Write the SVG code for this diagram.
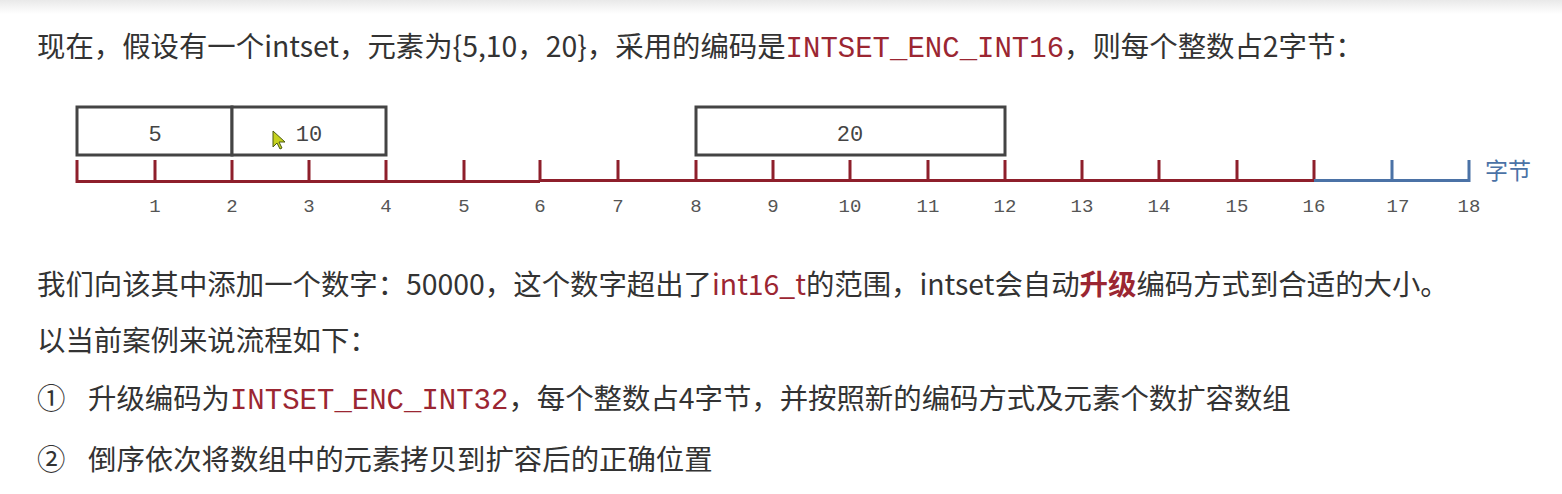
<svg xmlns="http://www.w3.org/2000/svg" width="1562" height="494" viewBox="0 0 1562 494">
<defs>
<linearGradient id="topShade" x1="0" y1="0" x2="0" y2="1">
<stop offset="0" stop-color="#e9e9e9"/>
<stop offset="1" stop-color="#ffffff"/>
</linearGradient>
</defs>
<style>
.txt{font-family:"Noto Sans CJK SC","Noto Sans",sans-serif;font-size:28.4px;fill:#333333}
.red{fill:#9b2632}
.mono{font-family:"Liberation Mono","DejaVu Sans Mono",monospace;font-size:29px}
.bold{font-weight:bold}
.box{fill:#ffffff;stroke:#444444;stroke-width:3}
.val{font-family:"Liberation Mono","DejaVu Sans Mono",monospace;font-size:22px;fill:#444444;text-anchor:middle}
.num{font-family:"Liberation Mono","DejaVu Sans Mono",monospace;font-size:19px;fill:#555555;text-anchor:middle}
.rtick{stroke:#8e1f2b;stroke-width:3;fill:none}
.btick{stroke:#4b72a6;stroke-width:3;fill:none}
</style>
<rect x="0" y="0" width="1562" height="494" fill="#ffffff"/>
<rect x="0" y="0" width="1562" height="14" fill="url(#topShade)"/>

<g id="text-line1">
<text class="txt" x="37" y="57">现在，假设有一个intset，元素为{5,10，20}，采用的编码是<tspan class="mono red">INTSET_ENC_INT16</tspan>，则每个整数占2字节：</text>
</g>

<g id="box-5">
<rect class="box" x="77" y="107" width="155" height="48"/>
<text class="val" x="155" y="141">5</text>
</g>
<g id="box-10">
<rect class="box" x="232" y="107" width="154" height="48"/>
<text class="val" x="309" y="141">10</text>
</g>
<g id="box-20">
<rect class="box" x="696" y="107" width="309" height="48"/>
<text class="val" x="850" y="141">20</text>
</g>

<g id="cursor">
<path d="M273,131 L273,147 L277,143 L280,149 L282,148 L279,142 L285,142 Z" fill="#c6d21e" stroke="#4a5a10" stroke-width="1"/>
</g>

<g id="ruler">
<path class="rtick" d="M77,160 V181.5 H540 M155,160 V181.5 M232,160 V181.5 M309,160 V181.5 M386,160 V181.5 M464,160 V181.5 M540,160 V181.5 M540,180.5 H1314 M618,160 V180.5 M696,160 V180.5 M773,160 V180.5 M850,160 V180.5 M928,160 V180.5 M1005,160 V180.5 M1082,160 V180.5 M1159,160 V180.5 M1237,160 V180.5 M1314,160 V180.5"/>
<path class="btick" d="M1314,180.5 H1469 V160 M1392,160 V180.5"/>
<g id="ruler-labels">
<text class="num" x="155" y="212">1</text>
<text class="num" x="232" y="212">2</text>
<text class="num" x="309" y="212">3</text>
<text class="num" x="386" y="212">4</text>
<text class="num" x="464" y="212">5</text>
<text class="num" x="540" y="212">6</text>
<text class="num" x="618" y="212">7</text>
<text class="num" x="696" y="212">8</text>
<text class="num" x="773" y="212">9</text>
<text class="num" x="850" y="212">10</text>
<text class="num" x="928" y="212">11</text>
<text class="num" x="1005" y="212">12</text>
<text class="num" x="1082" y="212">13</text>
<text class="num" x="1159" y="212">14</text>
<text class="num" x="1237" y="212">15</text>
<text class="num" x="1314" y="212">16</text>
<text class="num" x="1398" y="212">17</text>
<text class="num" x="1469" y="212">18</text>
</g>
<text x="1485" y="179" font-family="Noto Sans CJK SC, sans-serif" font-size="23" fill="#4b72a6">字节</text>
</g>

<g id="text-line2">
<text class="txt" x="37" y="295">我们向该其中添加一个数字：50000，这个数字超出了<tspan class="red">int16_t</tspan>的范围，intset会自动<tspan class="red bold">升级</tspan>编码方式到合适的大小。</text>
</g>
<g id="text-line3">
<text class="txt" x="37" y="351">以当前案例来说流程如下：</text>
</g>
<g id="text-line4">
<text class="txt" x="37" y="409">①</text>
<text class="txt" x="88" y="409">升级编码为<tspan class="mono red">INTSET_ENC_INT32</tspan>，每个整数占4字节，并按照新的编码方式及元素个数扩容数组</text>
</g>
<g id="text-line5">
<text class="txt" x="37" y="470">②</text>
<text class="txt" x="88" y="470">倒序依次将数组中的元素拷贝到扩容后的正确位置</text>
</g>
</svg>
